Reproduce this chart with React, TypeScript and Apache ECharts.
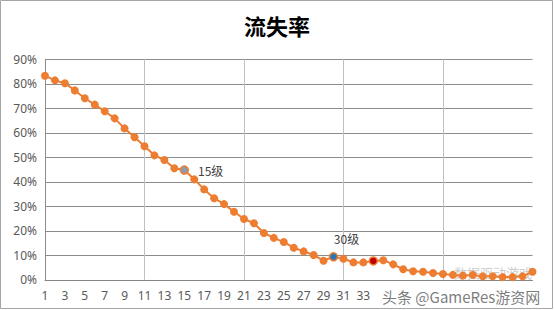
import React, { useEffect, useRef } from "react";
import * as echarts from "echarts";

const levels: string[] = Array.from({ length: 50 }, (_, i) => String(i + 1));
const churnRate: number[] = [
  83.3, 81.4, 80.2, 77.3, 74.1, 71.5, 68.8, 65.9, 61.8, 58.2,
  54.5, 50.8, 48.9, 45.5, 44.8, 41.0, 36.9, 33.3, 30.9, 27.8,
  24.8, 23.1, 19.1, 17.1, 15.4, 13.1, 11.6, 10.1, 7.8, 9.4,
  8.6, 7.1, 7.1, 7.7, 8.0, 6.3, 4.3, 3.5, 3.3, 2.8,
  2.4, 2.0, 1.7, 2.0, 1.4, 1.4, 1.1, 1.1, 1.4, 3.3,
];
const highlights = [
  { level: "15", color: "#8C9BAF", label: "15级", pos: "right" },
  { level: "30", color: "#2E75B6", label: "30级", pos: "top" },
  { level: "34", color: "#C00000", label: "", pos: "" },
];
const title = "流失率";
const watermarkTop = "数据驱动游戏";
const watermarkBottom = "头条 @GameRes游资网";

export default function App() {
  const ref = useRef<HTMLDivElement>(null);
  useEffect(() => {
    document.body.style.margin = "0";
    if (!ref.current) return;
    const chart = echarts.init(ref.current, null, { renderer: "svg" });
    const orange = "#ED7D31";
    const data = churnRate.map((v, i) => {
      const h = highlights.find((x) => x.level === levels[i]);
      if (!h) return v;
      const item: any = {
        value: v,
        itemStyle: { color: h.color, borderColor: orange, borderWidth: 1.5 },
      };
      if (h.label) {
        item.label = {
          show: true,
          formatter: h.label,
          position: h.pos,
          distance: h.pos === "right" ? 9 : 8,
          offset: h.pos === "top" ? [13, 0] : [0, 0],
          color: "#404040",
          fontSize: 12,
          fontFamily: "Noto Sans CJK SC",
        };
      }
      return item;
    });
    chart.setOption({
      animation: false,
      title: {
        text: title,
        left: "center",
        top: 9,
        textStyle: {
          fontSize: 22,
          fontWeight: "bold",
          color: "#000",
          fontFamily: "Noto Sans CJK SC",
        },
      },
      grid: { left: 45, right: 21.5, top: 59.3, bottom: 30.2 },
      xAxis: {
        type: "category",
        data: levels,
        boundaryGap: false,
        axisLine: { lineStyle: { color: "#868686", width: 1 } },
        axisTick: { show: false },
        axisLabel: {
          interval: (i: number) => i % 2 === 0 && i <= 32,
          color: "#595959",
          fontSize: 12,
          margin: 10,
          fontFamily: "Noto Sans",
        },
        splitLine: {
          show: true,
          interval: (i: number) => i % 10 === 0,
          lineStyle: { color: "#BFBFBF", width: 1 },
        },
      },
      yAxis: {
        type: "value",
        min: 0,
        max: 90,
        interval: 10,
        axisLine: { show: true, lineStyle: { color: "#8C8C8C" } },
        axisTick: { show: false },
        axisLabel: {
          formatter: "{value}%",
          color: "#595959",
          fontSize: 12,
          margin: 8,
          fontFamily: "Noto Sans",
        },
        splitLine: { lineStyle: { color: "#8C8C8C", width: 1 } },
      },
      series: [
        {
          type: "line",
          data,
          symbol: "circle",
          symbolSize: 8,
          showAllSymbol: true,
          lineStyle: { color: orange, width: 2 },
          itemStyle: { color: orange },
        },
      ],
      graphic: [
        {
          type: "rect",
          shape: { x: 0.5, y: 0.5, width: 552, height: 308 },
          style: { fill: "none", stroke: "#A6A6A6", lineWidth: 1 },
          silent: true,
        },
        {
          type: "text",
          x: 454,
          y: 266,
          style: {
            text: watermarkTop,
            fill: "rgba(150,150,150,0.5)",
            font: "13px 'Noto Sans CJK SC'",
          },
          silent: true,
        },
        {
          type: "text",
          x: 382,
          y: 289,
          style: {
            text: watermarkBottom,
            fill: "rgba(100,100,100,0.85)",
            stroke: "rgba(255,255,255,0.9)",
            lineWidth: 2,
            font: "15px 'Noto Sans CJK SC'",
          },
          silent: true,
        },
      ],
    });
    return () => chart.dispose();
  }, []);
  return <div ref={ref} style={{ width: 554, height: 310 }} />;
}
